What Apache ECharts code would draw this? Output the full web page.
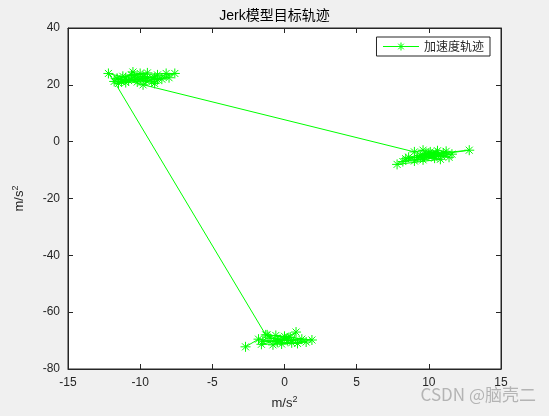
<!DOCTYPE html>
<html><head><meta charset="utf-8">
<script src="https://cdn.jsdelivr.net/npm/echarts@6/dist/echarts.min.js"></script>
<style>html,body{margin:0;padding:0;background:#f0f0f0;}#c{width:549px;height:416px;}</style>
</head><body><div id="c"></div>
<script>
const titleText = 'Jerk模型目标轨迹';
const seriesName = '加速度轨迹';
const xTicks = [-15, -10, -5, 0, 5, 10, 15];
const yTicks = [-80, -60, -40, -20, 0, 20, 40];
// cluster near (0,-70)
const clusterC = [[-2.7,-72.2],[-1.8,-69.5],[-0.5,-70.5],[-1.2,-68.0],[0.3,-69.0],[-0.8,-71.5],[0.8,-67.0],[0.5,-70.8],[-1.5,-70.2],[1.2,-69.5],[0.0,-68.5],[-0.2,-71.2],[1.5,-70.5],[-1.0,-69.2],[0.2,-70.0],[1.9,-69.8],[-0.6,-68.2],[0.9,-71.0],[-1.6,-71.3],[0.4,-68.8],[-0.3,-69.6],[-1.3,-68.0]];
// cluster near (-10,22)
const clusterA = [[-11.8,21.2],[-12.2,24.0],[-11.0,22.5],[-10.5,24.5],[-11.5,20.5],[-9.8,23.0],[-10.2,21.0],[-9.5,24.2],[-11.2,23.0],[-10.8,21.5],[-9.0,22.5],[-9.8,20.0],[-8.8,23.5],[-10.0,22.0],[-11.6,22.0],[-9.2,21.0],[-8.5,22.0],[-10.6,23.5],[-8.2,24.0],[-9.0,20.5],[-8.8,21.8],[-7.6,24.0],[-9.5,22.5],[-11.3,21.2],[-10.4,22.8],[-9.6,21.5],[-8.0,22.5],[-11.0,20.8],[-10.0,24.0],[-11.6,22.3]];
// cluster near (10,-5)
const clusterB = [[9.0,-3.6],[9.6,-3.0],[10.2,-4.5],[9.2,-5.5],[10.6,-3.2],[10.0,-5.0],[11.0,-4.0],[9.8,-4.2],[8.6,-5.5],[10.4,-5.8],[11.2,-3.4],[9.4,-4.8],[10.8,-6.2],[7.8,-8.0],[8.4,-6.0],[9.6,-6.4],[10.9,-5.0],[11.4,-5.5],[10.1,-3.6],[9.0,-6.8],[10.5,-4.2],[12.8,-3.0],[10.3,-4.8],[9.7,-5.4],[11.6,-4.4],[8.2,-7.0],[10.0,-4.0]];
const trajectory = clusterC.concat(clusterA, clusterB);

const green = '#00ff00';
const star = 'path://M5,0L5,10M0,5L10,5M1.5,1.5L8.5,8.5M8.5,1.5L1.5,8.5';
const legendIcon = 'path://M0,5L36,5M18,1L18,9M14,5L22,5M15.2,2.2L20.8,7.8M20.8,2.2L15.2,7.8';
const axisFont = {fontFamily:'Liberation Sans, Arial, sans-serif', fontSize:12, color:'#262626'};

const chart = echarts.init(document.getElementById('c'), null, {renderer:'canvas'});
const baseAxis = {
  type:'value', min:-15, max:15, interval:5,
  axisLine:{show:true, onZero:false, lineStyle:{color:'#262626', width:1}},
  axisTick:{show:true, inside:true, length:5, lineStyle:{color:'#262626'}},
  splitLine:{show:false}
};
const nameStyle = {fontFamily:'Liberation Sans, Arial, sans-serif', fontSize:13, color:'#262626',
  rich:{s:{fontSize:9, verticalAlign:'top', padding:[0,0,8,0], color:'#262626', fontFamily:'Liberation Sans, Arial, sans-serif'}}};
chart.setOption({
  animation:false,
  backgroundColor:'#f0f0f0',
  title:{text:titleText, left:'center', top:4,
    textStyle:{fontFamily:'Liberation Sans, Noto Sans CJK SC, sans-serif', fontSize:14, fontWeight:'normal', color:'#000'}},
  grid:{left:68, right:48, top:28, bottom:47, show:true, backgroundColor:'#fff', borderColor:'#262626', borderWidth:1},
  legend:{show:true, right:59, top:37, orient:'vertical', backgroundColor:'#fff', borderColor:'#262626', borderWidth:1,
    padding:[3,6,3,4], itemWidth:36, itemHeight:8, itemGap:4,
    itemStyle:{color:'none', borderColor:green, borderWidth:1},
    textStyle:{fontFamily:'Noto Sans CJK SC, sans-serif', fontSize:12, color:'#262626'},
    data:[{name:seriesName, icon:legendIcon}]},
  xAxis:[
    Object.assign({}, baseAxis, {position:'bottom',
      axisLabel:Object.assign({margin:8}, axisFont),
      name:'m/s{s|2}', nameLocation:'middle', nameGap:26, nameTextStyle:nameStyle}),
    Object.assign({}, baseAxis, {position:'top', axisLabel:{show:false}})
  ],
  yAxis:[
    Object.assign({}, baseAxis, {min:-80, max:40, interval:20, position:'left',
      axisLabel:Object.assign({margin:8}, axisFont),
      name:'m/s{s|2}', nameLocation:'middle', nameGap:40, nameRotate:90, nameTextStyle:nameStyle}),
    Object.assign({}, baseAxis, {min:-80, max:40, interval:20, position:'right', axisLabel:{show:false}})
  ],
  series:[{
    name:seriesName, type:'line', xAxisIndex:0, yAxisIndex:0,
    data:trajectory,
    lineStyle:{color:green, width:1},
    itemStyle:{color:'none', borderColor:green, borderWidth:1},
    symbol:star, symbolSize:10, showAllSymbol:true, z:3
  }],
  graphic:[{type:'text', right:13, top:386, style:{text:'CSDN @脑壳二', fill:'#b4b4b4',
    font:'17px "Noto Sans CJK SC", sans-serif'}}]
});
</script></body></html>
